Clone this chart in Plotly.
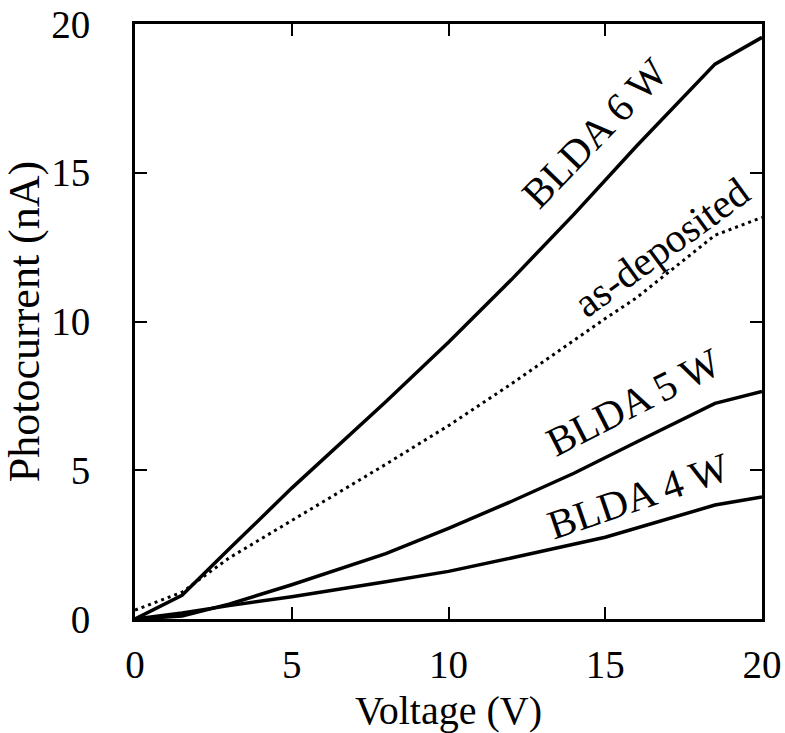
import plotly.graph_objects as go

# Photocurrent vs. bias voltage for the BLDA-treated films and the as-deposited film
v_6w = [0, 1.5, 3, 5, 8, 10, 12, 14, 16, 18.5, 20]
i_6w = [0, 0.8, 2.35, 4.4, 7.3, 9.3, 11.4, 13.6, 15.9, 18.65, 19.55]

v_dep = [0, 1.5, 3, 5, 8, 10, 12, 15, 16, 18.5, 20]
i_dep = [0.3, 0.9, 2.05, 3.3, 5.2, 6.5, 7.9, 10.1, 10.8, 12.9, 13.5]

v_5w = [0, 1.5, 3, 5, 8, 10, 12, 14, 16, 18.5, 20]
i_5w = [0, 0.1, 0.5, 1.15, 2.2, 3.05, 3.95, 4.9, 5.95, 7.25, 7.65]

v_4w = [0, 1.5, 3, 5, 8, 10, 12, 15, 18.5, 20]
i_4w = [0, 0.2, 0.45, 0.75, 1.25, 1.6, 2.05, 2.75, 3.83, 4.1]

curve_labels = ["BLDA 6 W", "as-deposited", "BLDA 5 W", "BLDA 4 W"]
label_x = [14.65, 16.8, 15.9, 16.05]
label_y = [16.35, 12.5, 7.3, 4.15]
label_angle = [-46, -36, -27, -19]

tick_vals = [0, 5, 10, 15, 20]

FONT = "Liberation Serif"

fig = go.Figure()
line_solid = dict(color="black", width=3.5)
fig.add_trace(go.Scatter(x=v_6w, y=i_6w, mode="lines", line=line_solid, name="BLDA 6 W"))
fig.add_trace(go.Scatter(x=v_dep, y=i_dep, mode="lines",
                         line=dict(color="black", width=3, dash="3px,4px"), name="as-deposited"))
fig.add_trace(go.Scatter(x=v_5w, y=i_5w, mode="lines", line=line_solid, name="BLDA 5 W"))
fig.add_trace(go.Scatter(x=v_4w, y=i_4w, mode="lines", line=line_solid, name="BLDA 4 W"))

for txt, x, y, ang in zip(curve_labels, label_x, label_y, label_angle):
    fig.add_annotation(x=x, y=y, text=txt, textangle=ang, showarrow=False,
                       xanchor="center", yanchor="middle",
                       font=dict(family=FONT, size=41, color="black"))

axis_common = dict(
    showline=True, linecolor="black", linewidth=3, mirror="ticks",
    ticks="inside", ticklen=12, tickwidth=2, tickcolor="black",
    showgrid=False, zeroline=False, automargin=False,
    tickvals=tick_vals, ticktext=[str(t) for t in tick_vals],
    tickfont=dict(family=FONT, size=39, color="black"),
)

fig.update_xaxes(range=[0, 20], title=dict(text="Voltage (V)", standoff=14,
                 font=dict(family=FONT, size=40, color="black")),
                 ticklabelstandoff=9, **axis_common)
fig.update_yaxes(range=[0, 20], title=dict(text="Photocurrent (nA)", standoff=0,
                 font=dict(family=FONT, size=44, color="black")),
                 ticklabelstandoff=34, **axis_common)

fig.update_layout(
    width=785, height=733,
    margin=dict(l=135, r=23, t=24, b=114),
    plot_bgcolor="white", paper_bgcolor="white",
    showlegend=False,
)

fig.write_html("out.html")
